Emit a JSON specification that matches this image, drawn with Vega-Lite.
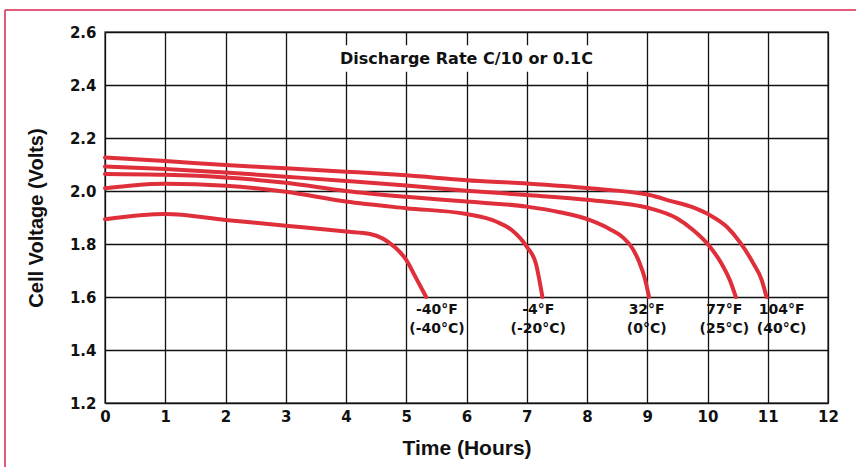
{
  "$schema": "https://vega.github.io/schema/vega-lite/v6.json",
  "width": 723,
  "height": 371,
  "autosize": {"type": "none"},
  "padding": {"left": 105, "top": 32, "right": 28, "bottom": 64},
  "background": "white",
  "config": {
    "font": "DejaVu Sans",
    "view": {"stroke": "#555", "strokeWidth": 1.5},
    "axis": {
      "grid": true,
      "gridColor": "#111",
      "gridWidth": 1.3,
      "gridOpacity": 1,
      "domain": false,
      "ticks": false,
      "labelFlush": false,
      "labelOverlap": false,
      "labelFont": "DejaVu Sans",
      "labelFontWeight": "bold",
      "labelColor": "#111",
      "labelFontSize": 15,
      "titleFont": "Liberation Sans",
      "titleFontWeight": "bold",
      "titleColor": "#111"
    }
  },
  "datasets": {
    "curves": [
      {"series": "104F", "hours": 0, "volts": 2.126},
      {"series": "104F", "hours": 1, "volts": 2.113},
      {"series": "104F", "hours": 2, "volts": 2.098},
      {"series": "104F", "hours": 3, "volts": 2.086},
      {"series": "104F", "hours": 4, "volts": 2.073},
      {"series": "104F", "hours": 5, "volts": 2.059},
      {"series": "104F", "hours": 6, "volts": 2.041},
      {"series": "104F", "hours": 7, "volts": 2.028},
      {"series": "104F", "hours": 8.04, "volts": 2.01},
      {"series": "104F", "hours": 9.04, "volts": 1.985},
      {"series": "104F", "hours": 9.38, "volts": 1.963},
      {"series": "104F", "hours": 9.76, "volts": 1.938},
      {"series": "104F", "hours": 10.04, "volts": 1.909},
      {"series": "104F", "hours": 10.32, "volts": 1.865},
      {"series": "104F", "hours": 10.54, "volts": 1.806},
      {"series": "104F", "hours": 10.76, "volts": 1.727},
      {"series": "104F", "hours": 10.9, "volts": 1.664},
      {"series": "104F", "hours": 10.98, "volts": 1.6},
      {"series": "77F", "hours": 0, "volts": 2.092},
      {"series": "77F", "hours": 1, "volts": 2.083},
      {"series": "77F", "hours": 2, "volts": 2.07},
      {"series": "77F", "hours": 3, "volts": 2.054},
      {"series": "77F", "hours": 4, "volts": 2.038},
      {"series": "77F", "hours": 5, "volts": 2.021},
      {"series": "77F", "hours": 6, "volts": 2.001},
      {"series": "77F", "hours": 7, "volts": 1.985},
      {"series": "77F", "hours": 8.04, "volts": 1.966},
      {"series": "77F", "hours": 9.04, "volts": 1.935},
      {"series": "77F", "hours": 9.49, "volts": 1.897},
      {"series": "77F", "hours": 9.76, "volts": 1.853},
      {"series": "77F", "hours": 10.04, "volts": 1.79},
      {"series": "77F", "hours": 10.23, "volts": 1.727},
      {"series": "77F", "hours": 10.37, "volts": 1.664},
      {"series": "77F", "hours": 10.47, "volts": 1.6},
      {"series": "32F", "hours": 0, "volts": 2.064},
      {"series": "32F", "hours": 1, "volts": 2.061},
      {"series": "32F", "hours": 2, "volts": 2.051},
      {"series": "32F", "hours": 3, "volts": 2.031},
      {"series": "32F", "hours": 4, "volts": 2.0},
      {"series": "32F", "hours": 5, "volts": 1.978},
      {"series": "32F", "hours": 6, "volts": 1.96},
      {"series": "32F", "hours": 7, "volts": 1.941},
      {"series": "32F", "hours": 7.55, "volts": 1.92},
      {"series": "32F", "hours": 8.04, "volts": 1.891},
      {"series": "32F", "hours": 8.38, "volts": 1.856},
      {"series": "32F", "hours": 8.6, "volts": 1.824},
      {"series": "32F", "hours": 8.75, "volts": 1.785},
      {"series": "32F", "hours": 8.87, "volts": 1.73},
      {"series": "32F", "hours": 8.96, "volts": 1.67},
      {"series": "32F", "hours": 9.03, "volts": 1.6},
      {"series": "-4F", "hours": 0, "volts": 2.01},
      {"series": "-4F", "hours": 0.5, "volts": 2.022},
      {"series": "-4F", "hours": 1, "volts": 2.027},
      {"series": "-4F", "hours": 2, "volts": 2.02},
      {"series": "-4F", "hours": 3, "volts": 1.997},
      {"series": "-4F", "hours": 4, "volts": 1.96},
      {"series": "-4F", "hours": 5, "volts": 1.935},
      {"series": "-4F", "hours": 6, "volts": 1.913},
      {"series": "-4F", "hours": 6.5, "volts": 1.884},
      {"series": "-4F", "hours": 6.75, "volts": 1.853},
      {"series": "-4F", "hours": 7, "volts": 1.79},
      {"series": "-4F", "hours": 7.15, "volts": 1.727},
      {"series": "-4F", "hours": 7.26, "volts": 1.6},
      {"series": "-40F", "hours": 0, "volts": 1.893},
      {"series": "-40F", "hours": 1, "volts": 1.913},
      {"series": "-40F", "hours": 2, "volts": 1.891},
      {"series": "-40F", "hours": 3, "volts": 1.869},
      {"series": "-40F", "hours": 4, "volts": 1.847},
      {"series": "-40F", "hours": 4.4, "volts": 1.838},
      {"series": "-40F", "hours": 4.8, "volts": 1.79},
      {"series": "-40F", "hours": 5, "volts": 1.74},
      {"series": "-40F", "hours": 5.15, "volts": 1.677},
      {"series": "-40F", "hours": 5.33, "volts": 1.6}
    ],
    "labels": [
      {"hours": 5.51, "volts": 1.577, "label": "-40°F\n(-40°C)"},
      {"hours": 7.19, "volts": 1.577, "label": "-4°F\n(-20°C)"},
      {"hours": 8.99, "volts": 1.577, "label": "32°F\n(0°C)"},
      {"hours": 10.28, "volts": 1.577, "label": "77°F\n(25°C)"},
      {"hours": 11.23, "volts": 1.577, "label": "104°F\n(40°C)"}
    ]
  },
  "layer": [
    {
      "data": {"name": "curves"},
      "mark": {"type": "line", "interpolate": "monotone", "color": "#df2f3b", "strokeWidth": 4, "strokeCap": "round"},
      "encoding": {
        "x": {
          "field": "hours", "type": "quantitative",
          "scale": {"domain": [0, 12], "nice": false, "zero": false},
          "axis": {"values": [0,1,2,3,4,5,6,7,8,9,10,11,12], "format": "d", "labelPadding": 6, "title": "Time (Hours)", "titleFontSize": 21, "titlePadding": 13}
        },
        "y": {
          "field": "volts", "type": "quantitative",
          "scale": {"domain": [1.2, 2.6], "nice": false, "zero": false},
          "axis": {"values": [1.2,1.4,1.6,1.8,2.0,2.2,2.4,2.6], "format": ".1f", "labelPadding": 9, "title": "Cell Voltage (Volts)", "titleFontSize": 20, "titlePadding": 23}
        },
        "detail": {"field": "series", "type": "nominal"}
      }
    },
    {
      "data": {"values": [{}]},
      "mark": {"type": "rect", "color": "white"},
      "encoding": {
        "x": {"datum": 3.85, "type": "quantitative"},
        "x2": {"datum": 8.15},
        "y": {"datum": 2.55, "type": "quantitative"},
        "y2": {"datum": 2.45}
      }
    },
    {
      "data": {"values": [{"t": "Discharge Rate C/10 or 0.1C"}]},
      "mark": {"type": "text", "font": "DejaVu Sans", "fontWeight": "bold", "fontSize": 16, "color": "#111", "align": "center", "baseline": "middle"},
      "encoding": {
        "x": {"datum": 6.0, "type": "quantitative"},
        "y": {"datum": 2.498, "type": "quantitative"},
        "text": {"field": "t"}
      }
    },
    {
      "data": {"name": "labels"},
      "mark": {"type": "text", "font": "DejaVu Sans", "fontWeight": "bold", "fontSize": 14, "color": "#111", "align": "center", "baseline": "top", "lineBreak": "\n", "lineHeight": 19},
      "encoding": {
        "x": {"field": "hours", "type": "quantitative"},
        "y": {"field": "volts", "type": "quantitative"},
        "text": {"field": "label"}
      }
    },
    {
      "data": {"values": [{}]},
      "mark": {"type": "rule", "color": "#d8264c", "strokeWidth": 1.5, "clip": false},
      "encoding": {
        "x": {"datum": -1.66, "type": "quantitative"},
        "y": {"datum": 2.683, "type": "quantitative"},
        "y2": {"datum": 0.9}
      }
    },
    {
      "data": {"values": [{}]},
      "mark": {"type": "rule", "color": "#d8264c", "strokeWidth": 1.5, "clip": false},
      "encoding": {
        "x": {"datum": -1.66, "type": "quantitative"},
        "x2": {"datum": 12.6},
        "y": {"datum": 2.683, "type": "quantitative"}
      }
    }
  ]
}
